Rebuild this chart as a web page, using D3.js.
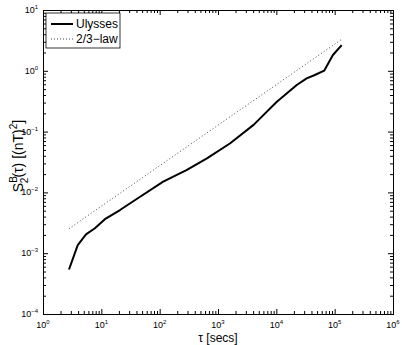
<!DOCTYPE html>
<html>
<head>
<meta charset="utf-8">
<script src="https://cdn.jsdelivr.net/npm/d3@7"></script>
<style>
  body { margin: 0; background: #fff; }
  svg { font-family: "Liberation Sans", Arial, sans-serif; }
  .domain { stroke: #000; }
  .tick line { stroke: #000; }
</style>
</head>
<body>
<div id="chart"></div>
<script>
// lags (secs) and structure function values
var tau = [2.79, 3.94, 5.46, 7.76, 11.5, 20.9, 38, 115, 288, 646, 1620, 4070,
           10200, 22400, 33100, 45700, 66100, 93300, 132000];
var ulysses = [5.4e-4, 1.36e-3, 2.04e-3, 2.57e-3, 3.63e-3, 5.13e-3, 7.5e-3, 1.5e-2,
               2.33e-2, 3.64e-2, 6.43e-2, 1.29e-1, 3.10e-1, 5.83e-1, 7.52e-1, 8.53e-1,
               1.005, 1.82, 2.65];
// 2/3 law reference line, end points
var lawTau = [2.79, 132000];
var lawVal = [2.53e-3, 3.30];

var xExp = [0, 1, 2, 3, 4, 5, 6];
var yExp = [-4, -3, -2, -1, 0, 1];

var margin = {top: 10, right: 9, bottom: 31, left: 43},
    width = 402 - margin.left - margin.right,
    height = 345 - margin.top - margin.bottom;

var svg = d3.select("#chart")
  .append("svg")
    .attr("width", 402)
    .attr("height", 345)
  .append("g")
    .attr("transform", "translate(" + margin.left + "," + margin.top + ")");

var x = d3.scaleLog().domain([1, 1e6]).range([0, width]);
var y = d3.scaleLog().domain([1e-4, 10]).range([height, 0]);

var majX = xExp.map(e => Math.pow(10, e));
var majY = yExp.map(e => Math.pow(10, e));
var minX = [], minY = [];
xExp.slice(0, -1).forEach(e => { for (var k = 2; k < 10; k++) minX.push(k * Math.pow(10, e)); });
yExp.slice(0, -1).forEach(e => { for (var k = 2; k < 10; k++) minY.push(k * Math.pow(10, e)); });

function addAxis(axis, tr) {
  svg.append("g").attr("transform", tr).call(axis)
    .call(g => g.selectAll("text").remove());
}
// major ticks, pointing inward, all four sides
addAxis(d3.axisBottom(x).tickValues(majX).tickSize(-5).tickSizeOuter(0), "translate(0," + height + ")");
addAxis(d3.axisTop(x).tickValues(majX).tickSize(-5).tickSizeOuter(0), "translate(0,0)");
addAxis(d3.axisLeft(y).tickValues(majY).tickSize(-5).tickSizeOuter(0), "translate(0,0)");
addAxis(d3.axisRight(y).tickValues(majY).tickSize(-5).tickSizeOuter(0), "translate(" + width + ",0)");
// minor ticks
addAxis(d3.axisBottom(x).tickValues(minX).tickSize(-3).tickSizeOuter(0), "translate(0," + height + ")");
addAxis(d3.axisTop(x).tickValues(minX).tickSize(-3).tickSizeOuter(0), "translate(0,0)");
addAxis(d3.axisLeft(y).tickValues(minY).tickSize(-3).tickSizeOuter(0), "translate(0,0)");
addAxis(d3.axisRight(y).tickValues(minY).tickSize(-3).tickSizeOuter(0), "translate(" + width + ",0)");

// tick labels 10^n
xExp.forEach(function(e) {
  var t = svg.append("text")
    .attr("x", x(Math.pow(10, e)))
    .attr("y", height + 14)
    .attr("text-anchor", "middle")
    .attr("font-size", 9);
  t.append("tspan").text("10");
  t.append("tspan").attr("dy", -4).attr("font-size", 6).text(e);
});
yExp.forEach(function(e) {
  var t = svg.append("text")
    .attr("x", -5)
    .attr("y", y(Math.pow(10, e)) + 3)
    .attr("text-anchor", "end")
    .attr("font-size", 9);
  t.append("tspan").text("10");
  t.append("tspan").attr("dy", -4).attr("font-size", 6).text(e < 0 ? "\u2212" + (-e) : e);
});

// lines
var line = d3.line()
  .x(d => x(d[0]))
  .y(d => y(d[1]));

svg.append("path")
  .datum(d3.zip(lawTau, lawVal))
  .attr("fill", "none")
  .attr("stroke", "#444")
  .attr("stroke-width", 1)
  .attr("stroke-dasharray", "1,2.3")
  .attr("d", line);

svg.append("path")
  .datum(d3.zip(tau, ulysses))
  .attr("fill", "none")
  .attr("stroke", "#000")
  .attr("stroke-width", 2)
  .attr("stroke-linejoin", "round")
  .attr("d", line);

// legend
var lg = svg.append("g").attr("transform", "translate(3,3)");
lg.append("rect")
  .attr("width", 74).attr("height", 35)
  .attr("fill", "#fff").attr("stroke", "#000").attr("stroke-width", 0.8);
lg.append("line").attr("x1", 5).attr("x2", 27).attr("y1", 11).attr("y2", 11)
  .attr("stroke", "#000").attr("stroke-width", 2);
lg.append("line").attr("x1", 5).attr("x2", 27).attr("y1", 26).attr("y2", 26)
  .attr("stroke", "#444").attr("stroke-width", 1).attr("stroke-dasharray", "1,2");
lg.append("text").attr("x", 30).attr("y", 15).attr("font-size", 12).text("Ulysses");
lg.append("text").attr("x", 30).attr("y", 30).attr("font-size", 12).text("2/3\u2212law");

// axis labels
svg.append("text")
  .attr("x", width / 2)
  .attr("y", height + 28)
  .attr("text-anchor", "middle")
  .attr("font-size", 12)
  .text("\u03c4 [secs]");

var yl = svg.append("text")
  .attr("transform", "translate(" + (-20) + "," + (height / 2 - 6) + ") rotate(-90)")
  .attr("text-anchor", "middle")
  .attr("font-size", 14);
yl.append("tspan").text("S");
yl.append("tspan").attr("font-size", 10).attr("dy", -6).text("B");
yl.append("tspan").attr("font-size", 10).attr("dx", -7).attr("dy", 11).text("2");
yl.append("tspan").attr("dy", -5).text("(\u03c4) [(nT)");
yl.append("tspan").attr("font-size", 10).attr("dy", -6).text("2");
yl.append("tspan").attr("dy", 6).text("]");
</script>
</body>
</html>
